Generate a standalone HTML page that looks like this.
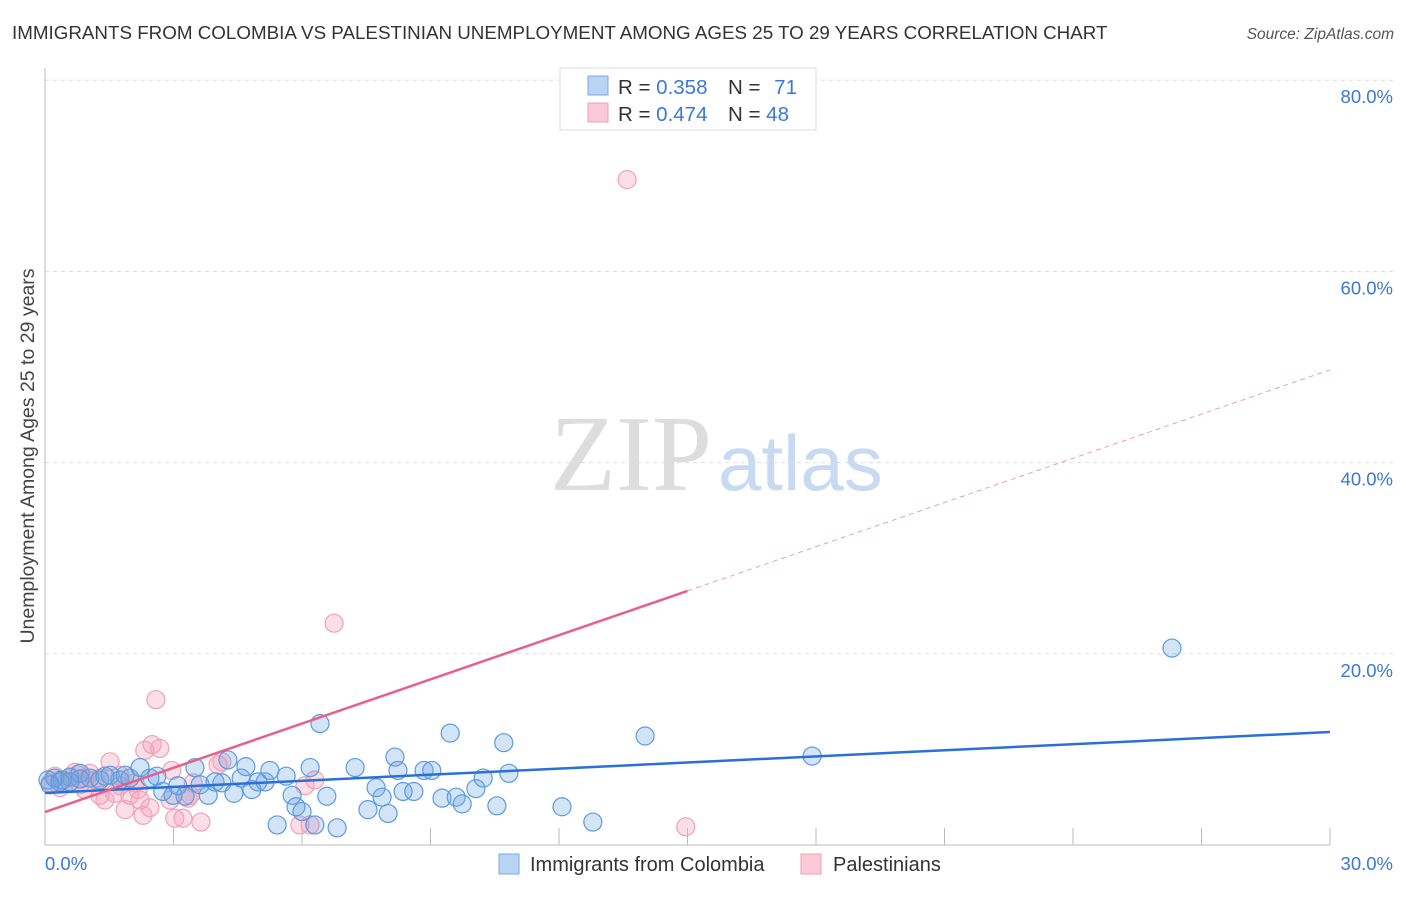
<!DOCTYPE html>
<html><head><meta charset="utf-8"><style>
body{margin:0;background:#fff;font-family:"Liberation Sans",sans-serif}
</style></head><body>
<svg id="c" width="1406" height="892" xmlns="http://www.w3.org/2000/svg" style="font-family:'Liberation Sans',sans-serif">
<text x="12" y="39" font-size="18.8" fill="#333">IMMIGRANTS FROM COLOMBIA VS PALESTINIAN UNEMPLOYMENT AMONG AGES 25 TO 29 YEARS CORRELATION CHART</text>
<text x="1394" y="39" font-size="15.5" fill="#555" font-style="italic" text-anchor="end">Source: ZipAtlas.com</text>
<text x="34" y="456" font-size="19.5" fill="#444" text-anchor="middle" transform="rotate(-90 34 456)">Unemployment Among Ages 25 to 29 years</text>
<g><text x="712" y="490" font-size="108" fill="#ddd" text-anchor="end" font-family="'Liberation Serif',serif">ZIP</text><text x="718" y="490" font-size="78" fill="#c8daf2">atlas</text></g>
<g id="grid"></g><g id="axes"></g><g id="pts"></g><g id="lines"></g>
<g>
<rect x="560" y="68" width="256" height="62" fill="#fff" stroke="#ddd"/>
<rect x="588" y="76" width="20" height="19" fill="#b9d3f5" stroke="#7aaae8"/>
<rect x="588" y="103" width="20" height="19" fill="#fbc9d7" stroke="#f0a0b8"/>
<text x="618" y="94" font-size="20.5" fill="#333">R = <tspan fill="#3a78d8">0.358</tspan></text>
<text x="728" y="94" font-size="20.5" fill="#333">N = <tspan fill="#3a78d8" dx="8">71</tspan></text>
<text x="618" y="121" font-size="20.5" fill="#333">R = <tspan fill="#3a78d8">0.474</tspan></text>
<text x="728" y="121" font-size="20.5" fill="#333">N = <tspan fill="#3a78d8">48</tspan></text>
</g>
<g>
<rect x="499" y="854" width="20" height="20" fill="#b9d3f5" stroke="#7aaae8"/>
<text x="530" y="871" font-size="20" fill="#333">Immigrants from Colombia</text>
<rect x="801" y="854" width="20" height="20" fill="#fbc9d7" stroke="#f0a0b8"/>
<text x="833" y="871" font-size="20" fill="#333">Palestinians</text>
</g>
</svg>
<script>
const yTicks=[20,40,60,80];
const xTickCount=10;
const blueX=[0.07,0.23,0.40,0.58,0.82,1.05,1.28,1.52,1.75,1.98,2.22,2.45,2.61,2.75,2.99,3.10,3.27,3.50,3.62,3.81,3.97,4.13,4.27,4.41,4.58,4.69,4.83,4.97,5.14,5.25,5.42,5.63,5.77,5.86,6.00,6.19,6.30,6.42,6.58,6.82,7.24,7.54,7.73,7.87,8.01,8.17,8.24,8.36,8.61,8.85,9.03,9.27,9.46,9.60,9.74,10.06,10.23,10.55,10.71,10.83,12.07,12.79,14.01,17.91,26.31,0.82,1.40,1.87,0.35,0.12,0.58];
const blueY=[6.8,7.0,6.8,7.1,7.5,7.0,6.8,7.3,6.8,7.0,8.1,7.0,7.2,5.6,5.2,6.2,5.1,8.1,6.3,5.2,6.6,6.5,8.9,5.4,7.0,8.2,5.8,6.6,6.6,7.8,2.1,7.2,5.2,4.0,3.5,8.1,2.1,12.7,5.1,1.8,8.1,3.7,6.0,5.0,3.3,9.2,7.8,5.6,5.6,7.8,7.8,4.9,11.7,5.0,4.3,5.9,7.0,4.1,10.7,7.5,4.0,2.4,11.4,9.3,20.6,6.9,7.2,7.3,6.6,6.3,6.6];
const pinkX=[0.12,0.35,0.58,0.77,0.93,1.17,1.40,1.52,1.63,1.75,1.87,1.98,2.17,2.29,2.33,2.45,2.50,2.59,2.68,2.96,3.03,3.22,3.34,3.46,3.64,4.04,4.13,5.95,6.07,6.19,6.30,6.75,13.59,14.96,0.23,0.47,1.05,1.28,2.10,2.92,1.75,0.70,0.35,3.39,2.22,1.28,0.82,0.93];
const pinkY=[6.5,6.8,7.0,7.4,5.8,6.8,4.7,8.7,5.4,6.2,3.7,5.2,5.8,3.1,9.9,3.9,10.5,15.2,10.1,7.8,2.8,2.8,4.9,6.5,2.4,8.4,8.7,2.1,6.2,2.1,6.8,23.2,69.6,1.9,7.2,6.5,7.5,7.0,6.5,4.7,7.3,7.6,6.0,5.2,4.7,5.2,6.3,7.0];
const blueTrend=[5.44,11.82];
const pinkTrend=[3.45,49.7];
const pinkSolidEnd=15.0;
const X=v=>45+v/30*1285, Y=v=>845-v*9.56;
const NS='http://www.w3.org/2000/svg';
function mk(p,t,a){const e=document.createElementNS(NS,t);for(const k in a)e.setAttribute(k,a[k]);p.appendChild(e);return e;}
const grid=document.getElementById('grid'),axes=document.getElementById('axes'),pts=document.getElementById('pts'),lines=document.getElementById('lines');
yTicks.forEach(v=>{
 const l=mk(grid,'line',{x1:45,x2:1395,y1:Y(v),y2:Y(v),stroke:'#ddd','stroke-dasharray':'4,4'});
 
 
 const t=mk(axes,'text',{x:1393,y:Y(v)+23,'font-size':18.5,fill:'#3a78d8','text-anchor':'end'});t.textContent=v.toFixed(1)+'%';
 
 
});
const al=mk(axes,'line',{x1:45,x2:45,y1:68,y2:845,stroke:'#bbb'});


const bl=mk(axes,'line',{x1:45,x2:1330,y1:845,y2:845,stroke:'#bbb'});


for(let i=1;i<=xTickCount;i++){const x=X(i*30/xTickCount);const t=mk(axes,'line',{x1:x,x2:x,y1:828,y2:845,stroke:'#bbb'});
 
 }
const x0=mk(axes,'text',{x:45,y:870,'font-size':18.5,fill:'#3a78d8'});x0.textContent='0.0%';


const x1=mk(axes,'text',{x:1393,y:870,'font-size':18.5,fill:'#3a78d8','text-anchor':'end'});x1.textContent='30.0%';


pinkX.forEach((v,i)=>{const c=mk(pts,'circle',{cx:X(v),cy:Y(pinkY[i]),r:9,fill:'rgba(245,160,185,0.35)',stroke:'#f0a0b8','stroke-width':1.2});
 
 });
blueX.forEach((v,i)=>{const c=mk(pts,'circle',{cx:X(v),cy:Y(blueY[i]),r:9,fill:'rgba(110,165,230,0.3)',stroke:'#5a9be0','stroke-width':1.2});
 
 });
const pAt=x=>pinkTrend[0]+(pinkTrend[1]-pinkTrend[0])*x/30;
const b=mk(lines,'line',{x1:X(0),y1:Y(blueTrend[0]),x2:X(30),y2:Y(blueTrend[1]),stroke:'#2a70d8','stroke-width':2.5});


const p=mk(lines,'line',{x1:X(0),y1:Y(pAt(0)),x2:X(pinkSolidEnd),y2:Y(pAt(pinkSolidEnd)),stroke:'#e8608a','stroke-width':2.5});


const pd=mk(lines,'line',{x1:X(pinkSolidEnd),y1:Y(pAt(pinkSolidEnd)),x2:X(30),y2:Y(pAt(30)),stroke:'#e8a0b8','stroke-width':1,'stroke-dasharray':'5,4'});


</script>
</body></html>
